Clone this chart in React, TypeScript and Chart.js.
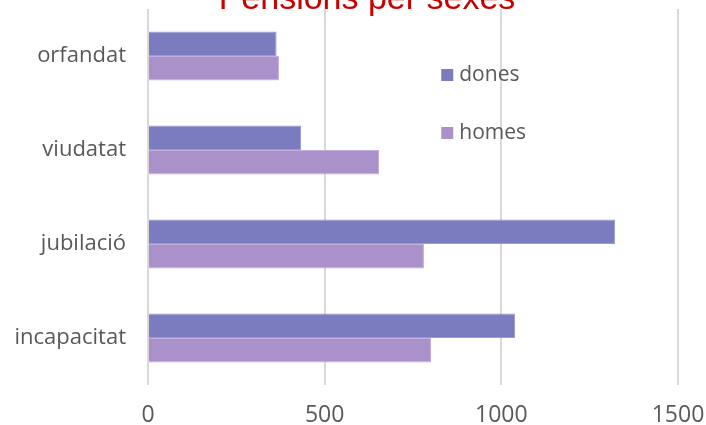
import React, { useEffect, useRef } from "react";
import { Chart, registerables } from "chart.js";

Chart.register(...registerables);

const categories = ["orfandat", "viudatat", "jubilació", "incapacitat"];
const seriesNames = ["dones", "homes"];
const donesValues = [364, 433, 1322, 1039];
const homesValues = [371, 654, 781, 801];
const xTicks = [0, 500, 1000, 1500];
const titleText = "Pensions per sexes";

const FONT = "'Open Sans', sans-serif";
const TEXT_COLOR = "#595959";

const overlayPlugin = {
  id: "overlay",
  afterDraw(chart: any) {
    const ctx = chart.ctx;
    const area = chart.chartArea;
    ctx.save();
    // title (partially clipped at top, as in the reference)
    ctx.font = `34px 'Liberation Sans', Arial, sans-serif`;
    ctx.fillStyle = "#C80000";
    ctx.textAlign = "center";
    ctx.textBaseline = "alphabetic";
    ctx.fillText(titleText, 367, area.top);
    // legend inside the plot
    const xScale = chart.scales.x;
    const lx = xScale.getPixelForValue(830);
    const rows = [area.top + 66, area.top + 124];
    ctx.font = `21px ${FONT}`;
    ctx.textAlign = "left";
    ctx.textBaseline = "middle";
    chart.data.datasets.forEach((ds: any, i: number) => {
      const y = rows[i];
      ctx.fillStyle = ds.backgroundColor;
      ctx.fillRect(lx, y - 6, 12, 12);
      ctx.fillStyle = TEXT_COLOR;
      ctx.fillText(ds.label, lx + 18, y);
    });
    ctx.restore();
  },
};

export default function App() {
  const ref = useRef<HTMLCanvasElement>(null);
  useEffect(() => {
    if (!ref.current) return;
    const chart = new Chart(ref.current, {
      type: "bar",
      data: {
        labels: categories,
        datasets: [
          {
            label: seriesNames[0],
            data: donesValues,
            backgroundColor: "#7B7BC0",
            borderColor: "#9A9AD6",
            borderWidth: 1,
          },
          {
            label: seriesNames[1],
            data: homesValues,
            backgroundColor: "#AA91CA",
            borderColor: "#C4AEDF",
            borderWidth: 1,
          },
        ],
      },
      options: {
        indexAxis: "y",
        responsive: false,
        animation: false,
        layout: { padding: { top: 9, right: 28, left: 0, bottom: 0 } },
        datasets: { bar: { categoryPercentage: 0.52, barPercentage: 1 } },
        plugins: {
          legend: { display: false },
          title: { display: false },
          tooltip: { enabled: false },
        },
        scales: {
          x: {
            min: 0,
            max: 1500,
            afterBuildTicks(scale: any) {
              scale.ticks = xTicks.map((v) => ({ value: v }));
            },
            afterFit(scale: any) {
              scale.height = 40;
              scale.paddingLeft = 0;
              scale.paddingRight = 0;
              scale.paddingTop = 0;
              scale.paddingBottom = 0;
            },
            grid: { color: "#D9D9D9", lineWidth: 2, drawTicks: false },
            border: { display: false },
            ticks: {
              padding: 17,
              color: TEXT_COLOR,
              font: { family: FONT, size: 23 },
              callback: (v: any) => String(v),
            },
          },
          y: {
            afterFit(scale: any) {
              scale.width = 148;
              scale.paddingLeft = 0;
              scale.paddingRight = 0;
              scale.paddingTop = 0;
              scale.paddingBottom = 0;
            },
            grid: { display: false, drawTicks: false },
            border: { display: false },
            ticks: {
              padding: 22,
              color: TEXT_COLOR,
              font: { family: FONT, size: 22 },
            },
          },
        },
      },
      plugins: [overlayPlugin],
    });
    return () => chart.destroy();
  }, []);
  return (
    <div style={{ position: "fixed", left: 0, top: 0, width: 706, height: 425, background: "#fff" }}>
      <canvas ref={ref} width={706} height={425} style={{ display: "block" }} />
    </div>
  );
}
